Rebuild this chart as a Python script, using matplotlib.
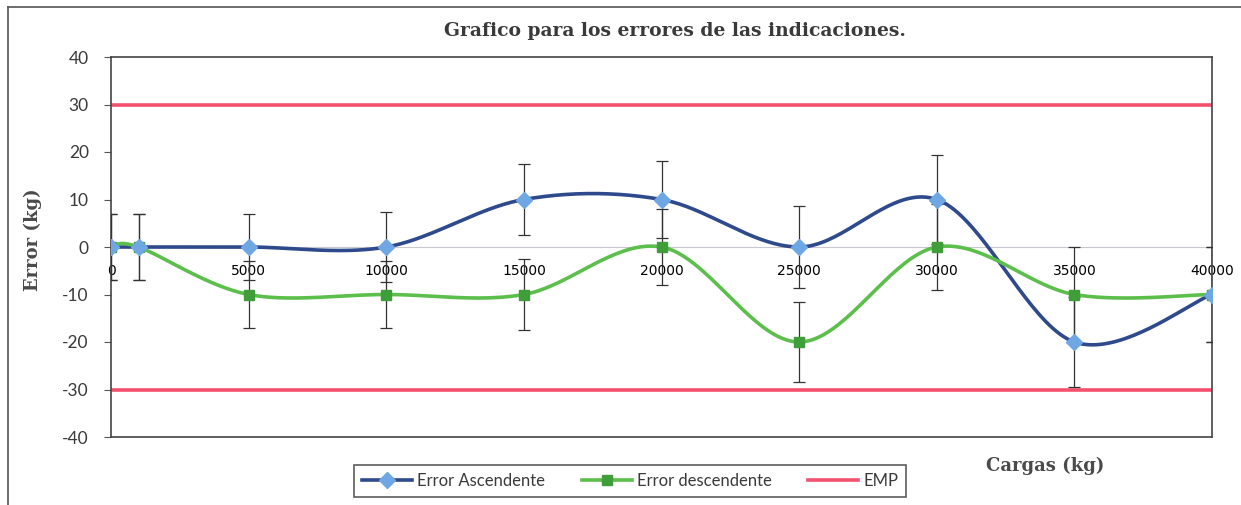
import numpy as np
import matplotlib.pyplot as plt
from matplotlib.lines import Line2D

# datos
cargas = [0, 1000, 5000, 10000, 15000, 20000, 25000, 30000, 35000, 40000]
err_asc = [0, 0, 0, 0, 10, 10, 0, 10, -20, -10]
err_desc = [0, 0, -10, -10, -10, 0, -20, 0, -10, -10]
inc_asc = [7, 7, 7, 7.4, 7.5, 8.2, 8.6, 9.3, 9.5, 10]
inc_desc = [7, 7, 7, 7, 7.5, 8, 8.5, 9, 10, 10]
emp = 30
xticks = [0, 5000, 10000, 15000, 20000, 25000, 30000, 35000, 40000]
yticks = [-40, -30, -20, -10, 0, 10, 20, 30, 40]

c_asc_line = "#2e4a8c"
c_asc_mk = "#6fa6e4"
c_desc_line = "#5cbf4c"
c_desc_mk = "#3f9e3a"
c_emp = "#f4506e"
tick_font = "Lato"
serif = "DejaVu Serif"


def suave(x, y, n=40):
    # curva suavizada tipo Excel (Catmull-Rom -> Bezier)
    p = np.column_stack([x, y]).astype(float)
    out = []
    for i in range(len(p) - 1):
        p0 = p[i - 1] if i > 0 else p[i]
        p1 = p[i]
        p2 = p[i + 1]
        p3 = p[i + 2] if i + 2 < len(p) else p[i + 1]
        c1 = p1 + (p2 - p0) / 6
        c2 = p2 - (p3 - p1) / 6
        t = np.linspace(0, 1, n)[:, None]
        seg = (1 - t)**3 * p1 + 3 * (1 - t)**2 * t * c1 + 3 * (1 - t) * t**2 * c2 + t**3 * p2
        out.append(seg if i == 0 else seg[1:])
    out = np.vstack(out)
    return out[:, 0], out[:, 1]


fig = plt.figure(figsize=(12.41, 5.05), dpi=100)
ax = fig.add_axes([111/1241, 1 - 437/505, (1212 - 111)/1241, (437 - 57)/505])

# EMP
ax.plot([0, 40000], [emp, emp], color=c_emp, lw=2.6, zorder=2)
ax.plot([0, 40000], [-emp, -emp], color=c_emp, lw=2.6, zorder=2)

# barras de error
ax.errorbar(cargas, err_asc, yerr=inc_asc, fmt="none", ecolor="#333333", elinewidth=0.9, capsize=4, capthick=0.9, zorder=3)
ax.errorbar(cargas, err_desc, yerr=inc_desc, fmt="none", ecolor="#333333", elinewidth=0.9, capsize=4, capthick=0.9, zorder=3)

xs, ys = suave(cargas, err_asc)
ax.plot(xs, ys, color=c_asc_line, lw=2.6, zorder=4)
ax.plot(cargas, err_asc, ls="none", marker="D", ms=8, mfc=c_asc_mk, mec=c_asc_mk, zorder=6)
xs, ys = suave(cargas, err_desc)
ax.plot(xs, ys, color=c_desc_line, lw=2.6, zorder=4)
ax.plot(cargas, err_desc, ls="none", marker="s", ms=7, mfc=c_desc_mk, mec=c_desc_mk, zorder=5)

ax.set_xlim(0, 40000)
ax.set_ylim(-40, 40)
ax.set_xticks(xticks)
ax.set_yticks(yticks)
ax.set_xticklabels([str(v) for v in xticks], fontsize=12.5, family=tick_font, color="#3a3a3a")
ax.set_yticklabels([str(v) for v in yticks], fontsize=12.5, family=tick_font, color="#3a3a3a")
ax.tick_params(axis="x", length=0, pad=12)
ax.tick_params(axis="y", length=5, width=0.8, color="#555555", pad=11)

ax.spines["bottom"].set_position(("data", 0))
ax.spines["bottom"].set_color("#c8c8d0")
ax.spines["bottom"].set_linewidth(0.8)
for s in ["left", "top", "right"]:
    ax.spines[s].set_color("#444444")
    ax.spines[s].set_linewidth(1.2)
ax.plot([0, 1], [0, 0], transform=ax.transAxes, color="#444444", lw=1.2, clip_on=False, zorder=1)

fig.text(675/1241, 1 - 31/505, "Grafico para los errores de las indicaciones.", ha="center", va="center",
         fontsize=13.5, fontweight="bold", family=serif, color="#3a3a3a")
fig.text(33/1241, 1 - 240/505, "Error (kg)", ha="center", va="center", rotation=90,
         fontsize=13, fontweight="bold", family=serif, color="#4a4a4a")
fig.text(1045/1241, 1 - 466/505, "Cargas (kg)", ha="center", va="center",
         fontsize=13, fontweight="bold", family=serif, color="#4a4a4a")

handles = [
    Line2D([], [], color=c_asc_line, lw=2.6, marker="D", ms=8, mfc=c_asc_mk, mec=c_asc_mk),
    Line2D([], [], color=c_desc_line, lw=2.6, marker="s", ms=7, mfc=c_desc_mk, mec=c_desc_mk),
    Line2D([], [], color=c_emp, lw=2.6),
]
leg = fig.legend(handles, ["Error Ascendente", "Error descendente", "EMP"], loc="center",
                 bbox_to_anchor=(630/1241, 1 - 481/505), ncol=3, frameon=True, fancybox=False,
                 prop={"family": tick_font, "size": 12}, handlelength=3.0, columnspacing=2.2,
                 borderpad=0.5, handletextpad=0.3)
leg.get_frame().set_edgecolor("#333333")
leg.get_frame().set_linewidth(1.2)
for t in leg.get_texts():
    t.set_color("#3a3a3a")

# marco exterior
fig.add_artist(Line2D([8/1241, 8/1241], [0, 1 - 7/505], color="#555555", lw=1.2))
fig.add_artist(Line2D([8/1241, 1], [1 - 7/505, 1 - 7/505], color="#555555", lw=1.2))

fig.savefig("out.png", dpi=100)
